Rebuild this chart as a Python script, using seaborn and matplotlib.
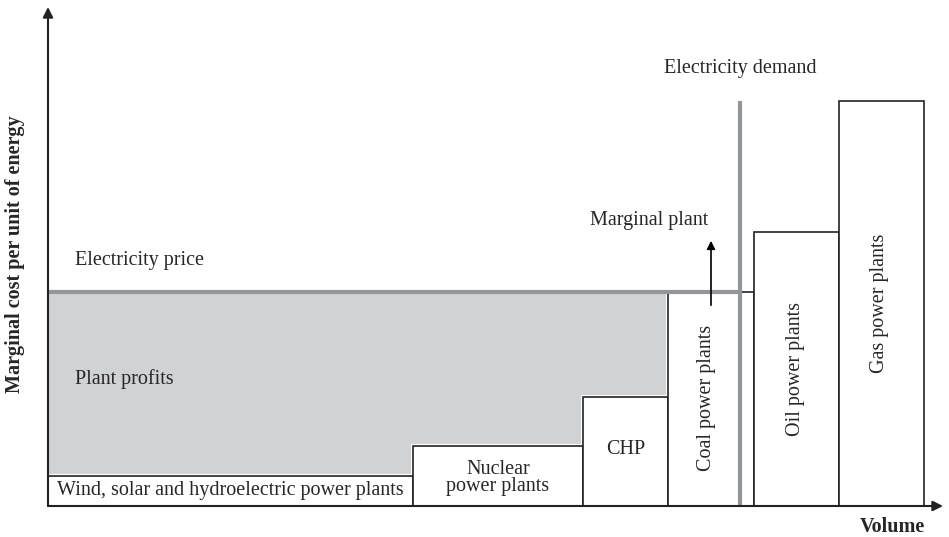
import numpy as np
import pandas as pd
import seaborn as sns
import matplotlib.pyplot as plt

# merit order data (arbitrary volume / cost units)
plants = ["Wind, solar and hydroelectric power plants", "Nuclear\npower plants", "CHP",
          "Coal power plants", "Oil power plants", "Gas power plants"]
widths = [365, 170, 85, 86, 85, 85]
costs = [30, 60, 109, 214, 274, 405]
price = 214
demand = 692
demand_top = 405

sns.set_theme(style="white")
plt.rcParams['font.family'] = ['Liberation Serif', 'DejaVu Serif']
fs = 14.5

edges = [0] + list(np.cumsum(widths))
centers = [(a + b) / 2 for a, b in zip(edges[:-1], edges[1:])]
df = pd.DataFrame({"plant": plants, "volume": centers, "cost": costs})

fig = plt.figure(figsize=(9.49, 5.37), dpi=100)
ax = fig.add_axes([48 / 949, 31 / 537, 895 / 949, 499 / 537])

# plant profits (grey area between price and marginal costs)
n_profit = 3
x_fill = [edges[0], edges[1] - 2, edges[2] - 2, edges[3] - 2]
y_fill = [c + 2 for c in costs[:n_profit]] + [costs[n_profit - 1] + 2]
ax.fill_between(x_fill, y_fill, price - 2, step="post", color="#d1d2d4", lw=0, zorder=1)

# supply curve bars
sns.histplot(data=df, x="volume", weights="cost", bins=edges, stat="count",
             color="white", edgecolor="#222222", linewidth=1.2, alpha=1, ax=ax, zorder=2)

# price and demand lines
ax.plot([0, demand], [price, price], color="#939598", lw=3, solid_capstyle="butt", zorder=3)
ax.plot([demand, demand], [0, demand_top], color="#939598", lw=3, solid_capstyle="butt", zorder=3)

# bar labels
ax.text(centers[0], costs[0] / 2, plants[0], ha="center", va="center", fontsize=fs, zorder=4)
ax.text(centers[1], costs[1] / 2 - 2, plants[1], ha="center", va="center", fontsize=fs,
        linespacing=0.85, zorder=4)
ax.text(centers[2], 56, plants[2], ha="center", va="center", fontsize=fs, zorder=4)
ax.text(centers[3] - 4, 108, plants[3], ha="center", va="center", rotation=90, fontsize=fs, zorder=4)
ax.text(centers[4] - 1, 137, plants[4], ha="center", va="center", rotation=90, fontsize=fs, zorder=4)
ax.text(centers[5] - 2, 203, plants[5], ha="center", va="center", rotation=90, fontsize=fs, zorder=4)

ax.text(27, 245, "Electricity price", ha="left", va="center", fontsize=fs)
ax.text(27, 127, "Plant profits", ha="left", va="center", fontsize=fs)
ax.text(692, 438, "Electricity demand", ha="center", va="center", fontsize=fs)
ax.text(601, 286, "Marginal plant", ha="center", va="center", fontsize=fs)
ax.annotate("", xy=(663, 268), xytext=(663, 198),
            arrowprops=dict(arrowstyle="-|>", color="black", lw=1.2, mutation_scale=12), zorder=5)

ax.set_xlim(0, 895)
ax.set_ylim(0, 499)
ax.set_xticks([])
ax.set_yticks([])
ax.set_xlabel("")
ax.set_ylabel("")
for s in ax.spines.values():
    s.set_visible(False)
ax.patch.set_alpha(0)

# axes with arrow heads
ax.annotate("", xy=(1, 0), xytext=(0, 0), xycoords="axes fraction",
            arrowprops=dict(arrowstyle="-|>", color="#222222", lw=1.5, mutation_scale=15,
                            shrinkA=0, shrinkB=0))
ax.annotate("", xy=(0, 1), xytext=(0, 0), xycoords="axes fraction",
            arrowprops=dict(arrowstyle="-|>", color="#222222", lw=1.5, mutation_scale=15,
                            shrinkA=0, shrinkB=0))

fig.text(15 / 949, 1 - 254 / 537, "Marginal cost per unit of energy", rotation=90,
         ha="center", va="center", fontsize=fs, fontweight="bold")
fig.text(892 / 949, 1 - 527 / 537, "Volume", ha="center", va="center", fontsize=fs, fontweight="bold")

fig.savefig("out.png", dpi=100)
